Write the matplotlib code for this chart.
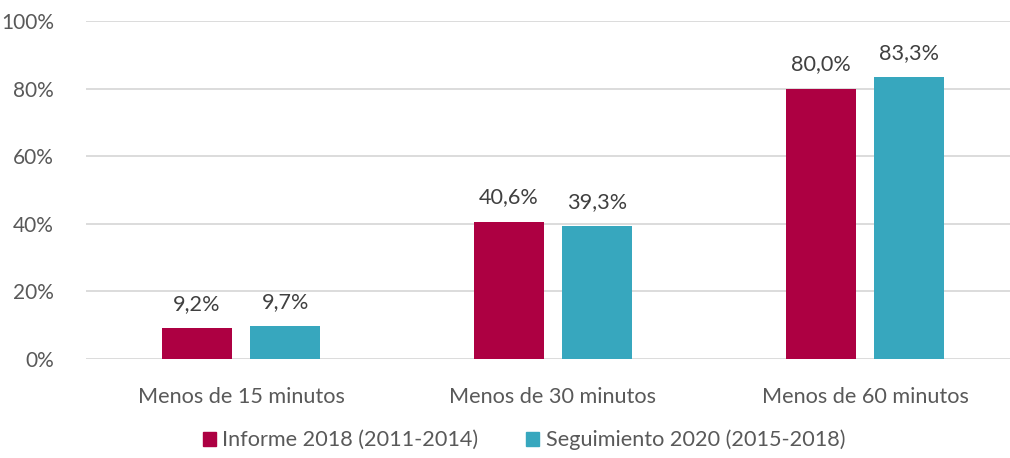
import matplotlib
matplotlib.use("Agg")
import matplotlib.pyplot as plt
import numpy as np
from matplotlib.patches import Patch

categories = ["Menos de 15 minutos", "Menos de 30 minutos", "Menos de 60 minutos"]
informe_2018 = [9.2, 40.6, 80.0]
seguimiento_2020 = [9.7, 39.3, 83.3]
series_names = ["Informe 2018 (2011-2014)", "Seguimiento 2020 (2015-2018)"]
yticks = [0, 20, 40, 60, 80, 100]

plt.rcParams['font.family'] = ['Lato', 'DejaVu Sans']
c_red = "#AD0042"
c_teal = "#37A7BE"
tcol = "#595959"
fs = 15.6

fig = plt.figure(figsize=(10.10, 4.58), dpi=100)
ax = fig.add_axes([86/1010, 1-359/458, 1-86/1010, (359-21)/458])

x = np.arange(len(categories))
w = 0.224
off = 0.142
ax.bar(x - off, informe_2018, w, color=c_red, zorder=3)
ax.bar(x + off, seguimiento_2020, w, color=c_teal, zorder=3)

for xi, v in zip(x, informe_2018):
    ax.text(xi - off, v + 4.2, f"{v:.1f}%".replace(".", ","), ha="center", va="bottom",
            fontsize=fs, color="#404040")
for xi, v in zip(x, seguimiento_2020):
    ax.text(xi + off, v + 4.2, f"{v:.1f}%".replace(".", ","), ha="center", va="bottom",
            fontsize=fs, color="#404040")

ax.set_ylim(0, 100)
ax.set_xlim(-0.497, 2.465)
ax.set_yticks(yticks)
ax.set_yticklabels([f"{t}%" for t in yticks], fontsize=15, color=tcol)
ax.set_xticks(x)
ax.set_xticklabels(categories, fontsize=fs, color=tcol)
ax.tick_params(axis="both", length=0)
ax.tick_params(axis="y", pad=23)
ax.tick_params(axis="x", pad=20)
ax.grid(axis="y", color="#D9D9D9", linewidth=1.3, zorder=0)
for s in ax.spines.values():
    s.set_visible(False)

handles = [Patch(color=c_red), Patch(color=c_teal)]
leg = fig.legend(handles, series_names, loc="center", bbox_to_anchor=(524/1010, 1-440/458),
                 ncol=2, frameon=False, fontsize=fs, handlelength=0.6, handleheight=0.6,
                 handletextpad=0.3, columnspacing=2.2)
for t in leg.get_texts():
    t.set_color(tcol)

fig.savefig("out.png", dpi=100)
